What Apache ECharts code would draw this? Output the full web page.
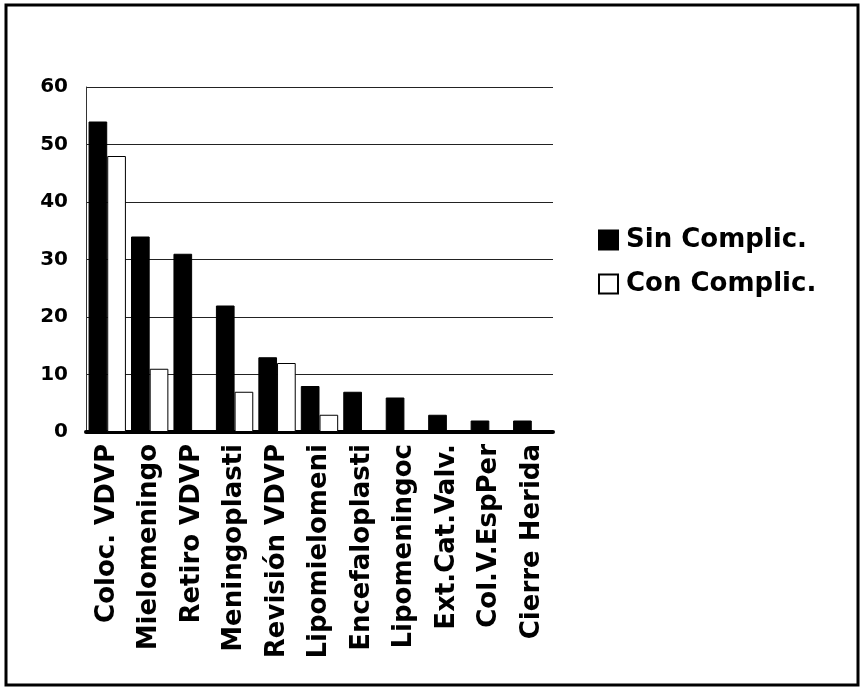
<!DOCTYPE html>
<html><head><meta charset="utf-8">
<script src="https://cdn.jsdelivr.net/npm/echarts@6/dist/echarts.min.js"></script>
<style>html,body{margin:0;padding:0;background:#fff}#c{width:865px;height:691px}</style>
</head><body><div id="c"></div>
<script>
const categories = ['Coloc. VDVP','Mielomeningo','Retiro VDVP','Meningoplasti','Revisión VDVP','Lipomielomeni','Encefaloplasti','Lipomeningoc','Ext.Cat.Valv.','Col.V.EspPer','Cierre Herida'];
const sinComplic = [54,34,31,22,13,8,7,6,3,2,2];
const conComplic = [48,11,0,7,12,3,0,0,0,0,0];
const yTicks = [0,10,20,30,40,50,60];
const seriesNames = ['Sin Complic.','Con Complic.'];

const chart = echarts.init(document.getElementById('c'));
const font = 'DejaVu Sans, Liberation Sans, Arial, sans-serif';
chart.setOption({
  animation:false,
  backgroundColor:'#fff',
  graphic:[{type:'rect',shape:{x:6,y:5,width:852,height:680},style:{fill:'none',stroke:'#000',lineWidth:3},z:100}],
  grid:{left:86,right:312,top:87,bottom:259,containLabel:false},
  legend:{orient:'vertical',left:598,top:227,itemWidth:19,itemHeight:19,itemGap:18,padding:0,
    textStyle:{fontFamily:font,fontWeight:'bold',fontSize:26,color:'#000',padding:[0,0,0,3]},
    data:seriesNames.map(n=>({name:n,icon:'rect'}))},
  xAxis:{type:'category',data:categories,
    axisLine:{lineStyle:{color:'#000',width:4}},axisTick:{show:false},
    axisLabel:{rotate:90,interval:0,margin:12,fontFamily:font,fontWeight:'bold',fontSize:26,color:'#000'}},
  yAxis:{type:'value',min:0,max:60,interval:10,
    axisLine:{show:true,lineStyle:{color:'#333',width:1}},axisTick:{show:false},
    splitLine:{lineStyle:{color:'#222',width:1}},
    axisLabel:{margin:18,fontFamily:font,fontWeight:'bold',fontSize:20,color:'#000',
      formatter:v=>yTicks.includes(v)?String(v):''}},
  series:[
    {name:seriesNames[0],type:'bar',data:sinComplic,barGap:'0%',barCategoryGap:'12%',
      itemStyle:{color:'#000',borderColor:'#000',borderWidth:1}},
    {name:seriesNames[1],type:'bar',data:conComplic,
      itemStyle:{color:'#fff',borderColor:'#000',borderWidth:1}}
  ]
});
</script></body></html>
